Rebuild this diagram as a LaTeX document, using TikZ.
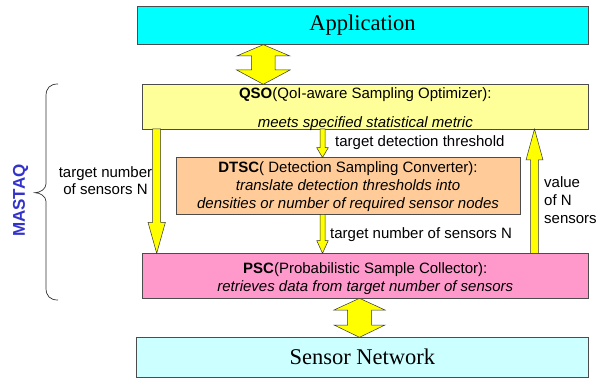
\documentclass[tikz,border=0pt]{standalone}
\usepackage{fontspec}
\setmainfont{Liberation Serif}
\setsansfont{Liberation Sans}
\usetikzlibrary{calc}
\definecolor{appc}{HTML}{00FFFF}
\definecolor{qsoc}{HTML}{FFFF99}
\definecolor{dtscc}{HTML}{FFCC99}
\definecolor{pscc}{HTML}{FF99CC}
\definecolor{snc}{HTML}{CCFFFF}
\definecolor{fatc}{HTML}{FFFF00}
\definecolor{mastc}{HTML}{3333CC}
\begin{document}
\begin{tikzpicture}[x=1pt,y=-1pt,
  box/.style={draw=black!70, line width=0.8pt, inner sep=0pt, outer sep=0pt},
  fat/.style={draw=black!80, fill=fatc, line width=0.5pt, line join=miter},
  lbl/.style={font=\sffamily\fontsize{15}{18}\selectfont, inner sep=0pt},
  big/.style={font=\rmfamily\fontsize{22.5}{26}\selectfont, inner sep=0pt}]
\useasboundingbox (0,0) rectangle (604,379);
% boxes
\node[box, fill=appc, minimum width=451pt, minimum height=38.7pt] (app) at (362.5,25.35) {};
\node[box, fill=qsoc, minimum width=446pt, minimum height=44.7pt] (qso) at (365.3,106.65) {};
\node[box, fill=dtscc, minimum width=344pt, minimum height=56.8pt] (dtsc) at (348,185.9) {};
\node[box, fill=pscc, minimum width=446pt, minimum height=45pt] (psc) at (365.3,275.8) {};
\node[box, fill=snc, minimum width=451.3pt, minimum height=40pt] (sn) at (362.35,357.3) {};
% texts
\node[big] (appT) at (app.center) {Application};
\node[big] (snT) at (sn.center) {Sensor Network};
\node[lbl] (qsoT1) at (365.3,95) {\textbf{QSO}(QoI-aware Sampling Optimizer):};
\node[lbl] (qsoT2) at (365.3,123.3) {\itshape meets specified statistical metric};
\node[lbl, align=center] (dtscT) at (348,187) {\textbf{DTSC}( Detection Sampling Converter):\\\itshape translate detection thresholds into\\\itshape densities or number of required sensor nodes};
\node[lbl, align=center] (pscT) at (365.3,278.3) {\textbf{PSC}(Probabilistic Sample Collector):\\\itshape retrieves data from target number of sensors};
\node[lbl, anchor=west] (l1) at (335,143) {target detection threshold};
\node[lbl, anchor=west] (l2) at (330,235) {target number of sensors N};
\node[lbl, align=center, font=\sffamily\fontsize{15}{17}\selectfont] (l3) at (105.5,180.5) {target number\\of sensors N};
\node[lbl, align=left, anchor=west] (l4) at (544,200) {value\\of N\\sensors};
\node[inner sep=0pt, rotate=90, text=mastc, font=\sffamily\bfseries\fontsize{17}{20}\selectfont] (mast) at (20.7,200.7) {MASTAQ};
% helper x positions
\coordinate (ax) at (263.3,0);
\coordinate (bx) at (359.5,0);
\coordinate (lx) at (156.7,0);
\coordinate (mx) at (322.5,0);
\coordinate (rx) at (534.5,0);
% double arrows
\draw[fat] (ax |- app.south) -- (290,56) -- (275,56) -- (275,70) -- (290,70) -- (ax |- qso.north)
  -- (236.7,70) -- (251.7,70) -- (251.7,56) -- (236.7,56) -- cycle;
\draw[fat] (bx |- psc.south) -- (385,310) -- (371.7,310) -- (371.7,325) -- (385,325) -- (bx |- sn.north)
  -- (334,325) -- (347.7,325) -- (347.7,310) -- (334,310) -- cycle;
% single arrows
\draw[fat] (152.7,129) -- (152.7,222.3) -- (148,222.3) -- (lx |- psc.north) -- (165.4,222.3) -- (160.7,222.3) -- (160.7,129) -- cycle;
\draw[fat] (320,129) -- (320,147.7) -- (316.7,147.7) -- (mx |- dtsc.north) -- (328.3,147.7) -- (325,147.7) -- (325,129) -- cycle;
\draw[fat] (320,214.3) -- (320,240.5) -- (316.7,240.5) -- (mx |- psc.north) -- (328.3,240.5) -- (325,240.5) -- (325,214.3) -- cycle;
\draw[fat] (530.7,253.3) -- (530.7,160) -- (526,160) -- (rx |- qso.south) -- (543,160) -- (538.3,160) -- (538.3,253.3) -- cycle;
% brace
\draw[black!80, line width=0.7pt] (58,84) .. controls (50,84) and (46,88) .. (46,96) -- (46,184)
  .. controls (46,189) and (40,192.7) .. (35,192.7) .. controls (40,192.7) and (46,196.4) .. (46,201.4)
  -- (46,288) .. controls (46,296) and (50,300) .. (58,300);
\end{tikzpicture}
\end{document}
